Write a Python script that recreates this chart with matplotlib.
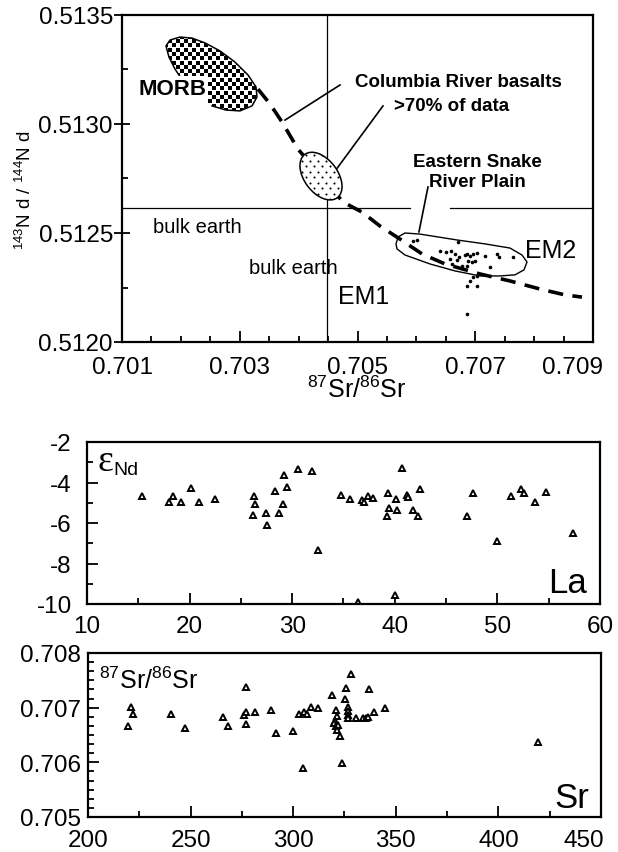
import numpy as np
import matplotlib
matplotlib.use("Agg")
import matplotlib.pyplot as plt
import matplotlib.transforms as mtrans
from matplotlib.patches import Ellipse, Polygon
from matplotlib.ticker import MultipleLocator, AutoMinorLocator

plt.rcParams['font.family'] = ['Liberation Sans', 'DejaVu Sans']
plt.rcParams['mathtext.fontset'] = 'custom'
plt.rcParams['mathtext.rm'] = 'Liberation Sans'
plt.rcParams['mathtext.it'] = 'Liberation Sans'
plt.rcParams['axes.unicode_minus'] = False

# --- top panel: Sr-Nd isotope diagram ---
top_xticks = [0.701, 0.703, 0.705, 0.707, 0.709]

# Eastern Snake River Plain samples
esrp_sr = [0.705943, 0.70601, 0.706707, 0.706401, 0.706503, 0.706588, 0.706656, 0.706571,
           0.70669, 0.706724, 0.706826, 0.70686, 0.706911, 0.706962, 0.70703, 0.706877,
           0.706945, 0.706996, 0.70686, 0.706775, 0.706605, 0.707166, 0.707369, 0.707403,
           0.707641, 0.707251, 0.70703, 0.706962, 0.706911, 0.70686, 0.70703, 0.70686]
esrp_nd = [0.512463, 0.512468, 0.512459, 0.512417, 0.512413, 0.512417, 0.512404, 0.512381,
           0.512376, 0.51239, 0.512399, 0.512404, 0.512394, 0.512404, 0.512408, 0.512372,
           0.512367, 0.512372, 0.512349, 0.512349, 0.512358, 0.512394, 0.512404, 0.51239,
           0.51239, 0.512344, 0.512303, 0.512298, 0.51228, 0.512257, 0.512257, 0.512128]

# ESRP field outline
field_sr = [0.705654, 0.70569, 0.705807, 0.706061, 0.70669, 0.707166, 0.70759, 0.707794,
            0.707879, 0.707828, 0.707675, 0.70742, 0.707081, 0.706656, 0.706231, 0.705807, 0.705671]
field_nd = [0.51245, 0.512482, 0.5125, 0.512495, 0.512468, 0.51245, 0.512431, 0.512399,
            0.512367, 0.512331, 0.512308, 0.512303, 0.512303, 0.512326, 0.512358, 0.512399, 0.512427]

# MORB field outline (starts at lower edge, open near the label)
morb_sr = [0.702529, 0.702766, 0.703004, 0.703208, 0.703293, 0.703276, 0.70314, 0.702919,
           0.702665, 0.70241, 0.702189, 0.701985, 0.701815, 0.701747, 0.701798, 0.7019,
           0.702036, 0.702189, 0.702359]
morb_nd = [0.513083, 0.513064, 0.51306, 0.513083, 0.513124, 0.51317, 0.513225, 0.513284,
           0.513335, 0.513372, 0.513394, 0.513399, 0.513385, 0.513358, 0.513307, 0.513252,
           0.513197, 0.513151, 0.51311]

# mixing curve MORB -> EM2
mix_sr = [0.70331, 0.703514, 0.703718, 0.703989, 0.704754, 0.705076, 0.705382, 0.705722,
          0.706096, 0.706486, 0.707081, 0.70759, 0.7081, 0.708524, 0.708813]
mix_nd = [0.51316, 0.513092, 0.513009, 0.512885, 0.512642, 0.512596, 0.512532, 0.512472,
          0.512404, 0.512358, 0.512312, 0.51228, 0.512243, 0.512216, 0.512206]

bulk_sr = 0.70448
bulk_nd = 0.512615
crb_center = (0.70438, 0.512761)

# --- middle panel: eNd vs La ---
la = [15.4, 18.0, 18.35, 19.2, 20.1, 20.9, 22.5, 26.3, 26.4, 26.2, 27.4, 27.5, 28.3, 28.7,
      29.1, 29.2, 29.5, 30.6, 31.9, 32.5, 34.8, 35.6, 36.4, 36.8, 37.0, 37.4, 37.85, 39.3,
      40.1, 40.0, 40.7, 39.2, 39.4, 40.2, 41.2, 41.3, 41.8, 42.3, 42.45, 47.0, 47.6, 50.0,
      51.35, 52.3, 52.6, 53.7, 54.7, 57.4]
eps_nd = [-4.68, -4.95, -4.68, -4.95, -4.26, -4.95, -4.81, -4.68, -5.05, -5.59, -5.52, -6.08,
          -4.44, -5.52, -5.05, -3.63, -4.24, -3.33, -3.42, -7.33, -4.6, -4.83, -9.89, -4.88,
          -4.96, -4.65, -4.75, -4.5, -4.81, -9.54, -3.28, -5.67, -5.24, -5.37, -4.63, -4.72,
          -5.37, -5.67, -4.3, -5.67, -4.54, -6.87, -4.68, -4.3, -4.5, -4.96, -4.45, -6.5]

# --- bottom panel: 87Sr/86Sr vs Sr ---
sr_xticks = [200, 250, 300, 350, 400, 450]
sr_ppm = [219.3, 220.8, 222.1, 240.3, 247.3, 265.9, 268.2, 277.0, 276.2, 277.2, 277.0, 281.4,
          289.0, 291.8, 300.1, 305.0, 302.8, 305.1, 306.5, 308.5, 312.2, 318.9, 321.0, 321.3,
          320.5, 319.9, 320.7, 322.0, 321.2, 322.6, 323.8, 325.1, 325.9, 328.0, 326.7, 326.7,
          326.7, 326.7, 330.4, 334.0, 335.5, 336.6, 337.1, 339.2, 344.9, 419.2]
sr_ratio = [0.70666, 0.70702, 0.70688, 0.70688, 0.70663, 0.70683, 0.70666, 0.70738, 0.70686,
            0.70692, 0.70670, 0.70692, 0.70696, 0.70654, 0.70657, 0.70589, 0.70688, 0.70692,
            0.70688, 0.70702, 0.70699, 0.70723, 0.70696, 0.70685, 0.70676, 0.70672, 0.70667,
            0.70669, 0.70660, 0.70649, 0.70598, 0.70715, 0.70736, 0.70762, 0.70702, 0.70694,
            0.70687, 0.70681, 0.70681, 0.70681, 0.70681, 0.70683, 0.70734, 0.70692, 0.70699,
            0.70638]

W, H = 618, 853
fig = plt.figure(figsize=(W / 100, H / 100), dpi=100)


def px_axes(l, t, r, b):
    return fig.add_axes([l / W, 1 - b / H, (r - l) / W, (b - t) / H])


def style(ax, fs=17.5):
    for s in ax.spines.values():
        s.set_linewidth(1.6)
    ax.tick_params(which='both', direction='in', width=1.3, labelsize=fs)
    ax.tick_params(which='major', length=8)
    ax.tick_params(which='minor', length=4.5)


def shift_last_xlabel(ax, dx_px):
    t = ax.xaxis.get_major_ticks()[-1]
    t.label1.set_transform(t.label1.get_transform() +
                           mtrans.ScaledTranslation(dx_px / 100, 0, fig.dpi_scale_trans))


def texture(ax, patch, step_x, step_y, marker, ms):
    # fill pattern (pixel grid) clipped to the patch
    bb = ax.get_position()
    wpx, hpx = bb.width * W, bb.height * H
    pts = []
    for i, y in enumerate(np.arange(0, hpx, step_y)):
        off = (step_x / 2) * (i % 2)
        for x in np.arange(off, wpx, step_x):
            pts.append((x / wpx, y / hpx))
    pts = np.array(pts)
    sc = ax.scatter(pts[:, 0], pts[:, 1], s=ms, marker=marker, c='k', linewidths=0,
                    transform=ax.transAxes, zorder=patch.get_zorder() + 0.1)
    sc.set_clip_path(patch)


def pt_ellipse(ax, center, w, h, angle, **kw):
    tr = (mtrans.Affine2D().scale(1 / 72) + fig.dpi_scale_trans +
          mtrans.ScaledTranslation(center[0], center[1], ax.transData))
    e = Ellipse((0, 0), w, h, angle=angle, transform=tr, **kw)
    ax.add_patch(e)
    return e


# ---------------- top panel ----------------
ax1 = px_axes(122, 16, 593, 343)
style(ax1)
ax1.set_xlim(0.701, 0.709)
ax1.set_ylim(0.512, 0.5135)
ax1.set_xticks(top_xticks)
ax1.xaxis.set_minor_locator(MultipleLocator(0.0005))
ax1.yaxis.set_major_locator(MultipleLocator(0.0005))
ax1.yaxis.set_minor_locator(MultipleLocator(0.00025))
ax1.xaxis.set_major_formatter(plt.FormatStrFormatter('%.3f'))
ax1.yaxis.set_major_formatter(plt.FormatStrFormatter('%.4f'))
ax1.tick_params(axis='y', which='major', direction='inout', length=11, pad=1)
ax1.tick_params(axis='x', which='major', pad=10)

ax1.axvline(bulk_sr, color='k', lw=0.9, zorder=1)
ax1.plot([0.701, 0.705892], [bulk_nd, bulk_nd], color='k', lw=0.9, zorder=1)
ax1.plot([0.706571, 0.709], [bulk_nd, bulk_nd], color='k', lw=0.9, zorder=1)

ax1.plot(mix_sr, mix_nd, color='k', lw=2.6, dashes=(4.2, 2.6), zorder=2)

morb = Polygon(np.column_stack([morb_sr, morb_nd]), closed=True, facecolor='white',
               edgecolor='none', zorder=3)
ax1.add_patch(morb)
texture(ax1, morb, 8, 4.3, 's', 6)
ax1.plot(morb_sr, morb_nd, color='k', lw=1.1, zorder=3.5, solid_joinstyle='round')

crb = pt_ellipse(ax1, crb_center, 39, 24, -53, facecolor='white', edgecolor='k',
                 lw=1.1, zorder=3)
texture(ax1, crb, 8, 5.5, 'o', 2.2)

ax1.add_patch(Polygon(np.column_stack([field_sr, field_nd]), closed=True, fill=False,
                      edgecolor='k', lw=1.0, zorder=3))
ax1.plot(esrp_sr, esrp_nd, 'o', color='k', ms=2.6, mew=0, zorder=4)

ax1.plot([0.703769, 0.704703], [0.513018, 0.513179], color='k', lw=1.2)
ax1.plot([0.704618, 0.705433], [0.512784, 0.513083], color='k', lw=1.2)
ax1.plot([0.706197, 0.706044], [0.512711, 0.512505], color='k', lw=1.2)

ax1.text(0.70185, 0.513165, 'MORB', fontsize=16, fontweight='bold', ha='center', va='center',
         zorder=5, bbox=dict(facecolor='white', edgecolor='none', pad=1.5))
ax1.text(0.706707, 0.513197, 'Columbia River basalts', fontsize=13.5, fontweight='bold',
         ha='center', va='center')
ax1.text(0.706605, 0.513087, '>70% of data', fontsize=13.5, fontweight='bold',
         ha='center', va='center')
ax1.text(0.70703, 0.51283, 'Eastern Snake', fontsize=13.5, fontweight='bold',
         ha='center', va='center')
ax1.text(0.70703, 0.512734, 'River Plain', fontsize=13.5, fontweight='bold',
         ha='center', va='center')
ax1.text(0.702274, 0.512528, 'bulk earth', fontsize=14.5, ha='center', va='center')
ax1.text(0.703904, 0.512344, 'bulk earth', fontsize=14.5, ha='center', va='center')
ax1.text(0.70511, 0.512211, 'EM1', fontsize=18, ha='center', va='center')
ax1.text(0.708287, 0.512422, 'EM2', fontsize=18, ha='center', va='center')

fig.text(357 / W, 1 - 390 / H, r'$^{87}$Sr/$^{86}$Sr', fontsize=18, ha='center', va='center')
fig.text(25 / W, 1 - 190 / H, r'$^{143}$N d / $^{144}$N d', fontsize=13.5, rotation=90,
         ha='center', va='center')

# ---------------- middle panel ----------------
ax2 = px_axes(87, 443, 600, 605)
style(ax2)
ax2.set_xlim(10, 60)
ax2.set_ylim(-10, -2)
ax2.xaxis.set_major_locator(MultipleLocator(10))
ax2.xaxis.set_minor_locator(MultipleLocator(5))
ax2.yaxis.set_major_locator(MultipleLocator(2))
ax2.yaxis.set_minor_locator(MultipleLocator(1))
ax2.tick_params(axis='x', which='major', pad=8)
ax2.tick_params(axis='y', which='major', pad=11)
ax2.plot(la, eps_nd, '^', mfc='white', mec='k', ms=5, mew=1.4)
ax2.text(0.02, 0.83, '\u03b5', transform=ax2.transAxes, fontsize=27,
         family=['Liberation Serif', 'DejaVu Serif'], ha='left', va='baseline')
ax2.text(0.051, 0.80, 'Nd', transform=ax2.transAxes, fontsize=14, ha='left', va='baseline')
ax2.text(0.975, 0.074, 'La', transform=ax2.transAxes, fontsize=25, ha='right', va='baseline')

# ---------------- bottom panel ----------------
ax3 = px_axes(88, 654, 601, 818)
style(ax3)
ax3.set_xlim(200, 450)
ax3.set_ylim(0.705, 0.708)
ax3.set_xticks(sr_xticks)
ax3.xaxis.set_minor_locator(MultipleLocator(25))
ax3.yaxis.set_major_locator(MultipleLocator(0.001))
ax3.yaxis.set_minor_locator(AutoMinorLocator(6))
ax3.yaxis.set_major_formatter(plt.FormatStrFormatter('%.3f'))
ax3.tick_params(axis='x', which='major', pad=9)
ax3.tick_params(axis='y', which='major', pad=5)
ax3.plot(sr_ppm, sr_ratio, '^', mfc='white', mec='k', ms=5, mew=1.4)
ax3.text(0.021, 0.787, r'$^{87}$Sr/$^{86}$Sr', transform=ax3.transAxes, fontsize=18,
         ha='left', va='baseline')
ax3.text(0.977, 0.061, 'Sr', transform=ax3.transAxes, fontsize=25, ha='right', va='baseline')

# pull the last x labels inside the figure, as in the original
fig.canvas.draw()
shift_last_xlabel(ax1, -21)
shift_last_xlabel(ax3, -17)

fig.savefig('out.png', dpi=100)
